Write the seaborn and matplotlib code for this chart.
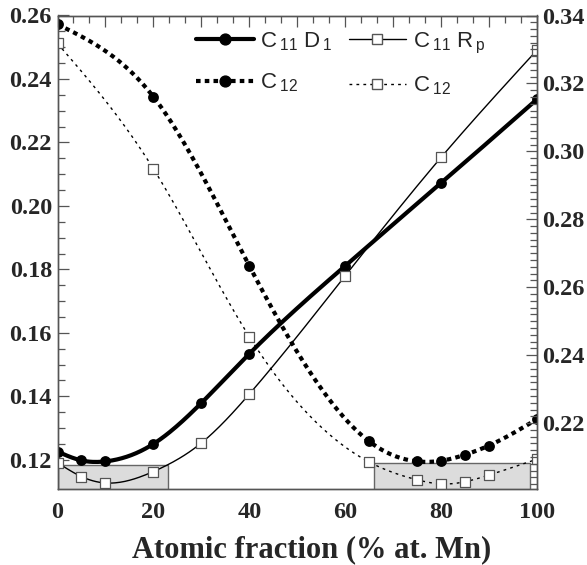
import numpy as np
import pandas as pd
import matplotlib
matplotlib.use("Agg")
import matplotlib.pyplot as plt
import seaborn as sns
from matplotlib.lines import Line2D
from matplotlib.patches import Rectangle
from matplotlib.ticker import MultipleLocator

# ---- data ----
x_c11 = [0, 5, 10, 20, 30, 40, 60, 80, 100]
c11_d1 = [0.1226, 0.1198, 0.1195, 0.1250, 0.1379, 0.1534, 0.1811, 0.2072, 0.2336]
c11_rp = [0.1191, 0.1147, 0.1127, 0.1163, 0.1253, 0.1407, 0.1780, 0.2153, 0.2491]
x_c12 = [0, 20, 40, 65, 75, 80, 85, 90, 100]
c12_d1 = [0.2572, 0.2344, 0.1811, 0.1258, 0.1195, 0.1197, 0.1216, 0.1245, 0.1328]
c12_rp = [0.2512, 0.2117, 0.1588, 0.1193, 0.1137, 0.1124, 0.1131, 0.1152, 0.1202]
left_ticks = [0.12, 0.14, 0.16, 0.18, 0.20, 0.22, 0.24, 0.26]
right_ticks = [0.22, 0.24, 0.26, 0.28, 0.30, 0.32, 0.34]
x_ticks = [0, 20, 40, 60, 80, 100]
boxes = [(0, 23.1, 0.1183), (66.0, 98.5, 0.1190)]  # x0, x1, top


def smooth(x, y, n=300):
    x = np.asarray(x, float); y = np.asarray(y, float)
    m = len(x); h = np.diff(x)
    A = np.zeros((m, m)); b = np.zeros(m)
    A[0, 0] = 1; A[-1, -1] = 1
    for i in range(1, m - 1):
        A[i, i - 1] = h[i - 1]; A[i, i] = 2 * (h[i - 1] + h[i]); A[i, i + 1] = h[i]
        b[i] = 6 * ((y[i + 1] - y[i]) / h[i] - (y[i] - y[i - 1]) / h[i - 1])
    M = np.linalg.solve(A, b)
    xs = np.linspace(x[0], x[-1], n)
    k = np.clip(np.searchsorted(x, xs) - 1, 0, m - 2)
    x0, x1, hk = x[k], x[k + 1], h[k]
    ys = (M[k] * (x1 - xs) ** 3 / (6 * hk) + M[k + 1] * (xs - x0) ** 3 / (6 * hk)
          + (y[k] / hk - M[k] * hk / 6) * (x1 - xs) + (y[k + 1] / hk - M[k + 1] * hk / 6) * (xs - x0))
    return pd.DataFrame({"x": xs, "y": ys})


sns.set_theme(style="white")
plt.rcParams["font.family"] = ["Liberation Serif", "DejaVu Serif"]
plt.rcParams["mathtext.fontset"] = "custom"
plt.rcParams["mathtext.rm"] = "Liberation Sans"
plt.rcParams["mathtext.it"] = "Liberation Sans"
plt.rcParams["mathtext.default"] = "regular"

fig = plt.figure(figsize=(5.87, 5.65), dpi=100)
ax = fig.add_axes([57.5 / 587, 1 - 489 / 565, (537 - 57.5) / 587, (489 - 15.5) / 565])
ax.set_facecolor("white")

spine_c = "#555555"
for x0, x1, top in boxes:
    ax.add_patch(Rectangle((x0, 0.10), x1 - x0, top - 0.10, facecolor="#dcdcdc",
                           edgecolor="#666666", linewidth=1.0, zorder=1))

series = [
    (x_c11, c11_d1, dict(color="black", linewidth=3.0, linestyle="-"), "o", "black", "black", 7.8),
    (x_c12, c12_d1, dict(color="black", linewidth=3.0, linestyle=(0, (1.1, 1.0))), "o", "black", "black", 7.8),
    (x_c11, c11_rp, dict(color="black", linewidth=1.0, linestyle="-"), "s", "white", "#555555", 7.2),
    (x_c12, c12_rp, dict(color="black", linewidth=1.0, linestyle=(0, (2, 3))), "s", "white", "#555555", 7.2),
]
for xs, ys, lstyle, mk, fc, ec, ms in series:
    d = smooth(xs, ys)
    sns.lineplot(data=d, x="x", y="y", ax=ax, sort=False, legend=False, zorder=3, **lstyle)
    pts = pd.DataFrame({"x": xs, "y": ys})
    sns.scatterplot(data=pts, x="x", y="y", ax=ax, marker=mk, s=ms ** 2, color=fc,
                    edgecolor=ec, linewidth=0.9 if mk == "s" else 0, zorder=4, legend=False)

ax.set_xlim(0, 100)
ax.set_ylim(0.1108, 0.26)
all_x = [0, 10, 20, 30, 40, 50, 60, 70, 80, 90, 100]
ax.set_xticks(all_x)
ax.set_xticklabels([str(v) if v in x_ticks else "" for v in all_x])
ax.xaxis.set_minor_locator(MultipleLocator(10 / 3))
ax.set_yticks(left_ticks)
ax.set_yticklabels([f"{v:.2f}" for v in left_ticks])
ax.yaxis.set_minor_locator(MultipleLocator(0.005))

ax2 = ax.twinx()
ax2.set_ylim(0.2006, 0.34)
ax2.set_yticks(right_ticks)
ax2.set_yticklabels([f"{v:.2f}" for v in right_ticks])
ax2.yaxis.set_minor_locator(MultipleLocator(0.002))

for a in (ax, ax2):
    for s in a.spines.values():
        s.set_color(spine_c)
        s.set_linewidth(1.0)
    a.tick_params(which="both", direction="in", color=spine_c, width=0.9)
    a.tick_params(which="major", length=8)
    a.tick_params(which="minor", length=5)
ax.tick_params(which="both", top=True, right=False)
ax.tick_params(axis="x", pad=9)
ax.tick_params(axis="y", pad=4)
ax2.tick_params(axis="y", pad=4)
for lab in ax.get_xticklabels() + ax.get_yticklabels() + ax2.get_yticklabels():
    lab.set_fontsize(17.5)
    lab.set_fontweight("bold")

ax.set_xlabel("Atomic fraction (% at. Mn)", fontsize=22, fontweight="bold")
ax.xaxis.set_label_coords(0.53, -0.098)
ax.set_ylabel("")
ax2.set_ylabel("")

handles = [
    Line2D([], [], color="black", lw=3.0, ls="-", marker="o", ms=7.8, mfc="black", mec="black"),
    Line2D([], [], color="black", lw=3.0, ls=(0, (1.1, 1.0)), marker="o", ms=7.8, mfc="black", mec="black"),
    Line2D([], [], color="black", lw=1.0, ls="-", marker="s", ms=7.2, mfc="white", mec="#555555"),
    Line2D([], [], color="black", lw=1.0, ls=(0, (2, 3)), marker="s", ms=7.2, mfc="white", mec="#555555"),
]
labels = [r"C$\,_{11}$ D$\,_1$", r"C$\,_{12}$", r"C$\,_{11}$ R$\,_p$", r"C$\,_{12}$"]
leg = ax.legend(handles, labels, ncol=2, loc="upper left", bbox_to_anchor=(196 / 587, 1 - 30 / 565),
                bbox_transform=fig.transFigure, frameon=False, borderpad=0, borderaxespad=0,
                handlelength=2.6, handletextpad=0.3, columnspacing=0.7, labelspacing=0.85,
                prop={"family": "Liberation Sans", "size": 16})

fig.savefig("out.png", dpi=100)
